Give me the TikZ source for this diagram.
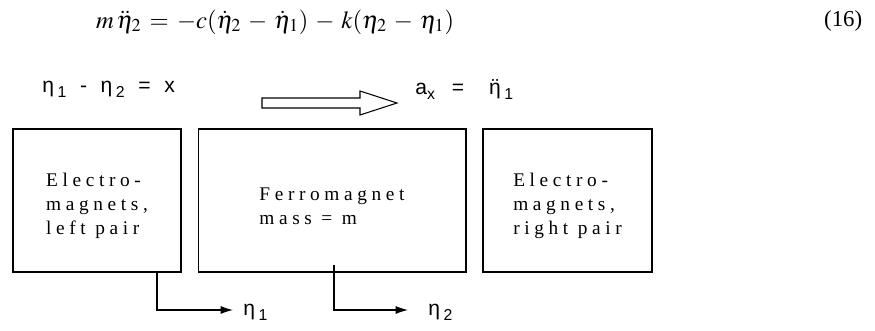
\documentclass[tikz,border=0pt]{standalone}
\usepackage{amsmath}
\usepackage{mathptmx}
\usepackage{fontspec}
\usepackage{tikz}
\usetikzlibrary{arrows.meta}
\newfontfamily\boxfont[LetterSpace=24]{Liberation Serif}
\newfontfamily\numfont{Liberation Serif}
\newfontfamily\symfont[LetterSpace=12]{Liberation Sans}
\newcommand{\lowidx}[1]{\raisebox{-0.45ex}{\small #1}}

\begin{document}
\begin{tikzpicture}[x=0.02cm,y=-0.02cm,
  magbox/.style={draw,line width=0.6pt,inner sep=0pt,align=left,font=\boxfont\fontsize{11}{13.6}\selectfont},
  qty/.style={font=\symfont\fontsize{12}{14}\selectfont,inner sep=0pt},
  shiftarrow/.style={line width=0.6pt,-{Latex[length=7pt,width=4.5pt]}}]
\useasboundingbox (0,0) rectangle (875,331);
\node[anchor=west] (eqn) at (90,22) {\fontsize{14}{17}\selectfont\thickmuskip=6mu\medmuskip=5mu$m\,\ddot{\eta}_2 = -c(\dot{\eta}_2-\dot{\eta}_1)-k(\eta_2-\eta_1)$};
\node[anchor=west] (eqnum) at (818,21) {\numfont\fontsize{13}{16}\selectfont(16)};
\node[qty,anchor=west] (gap) at (42,89) {η\,\lowidx{1}\hspace{3pt} - \hspace{3pt}η\,\lowidx{2}\hspace{3pt} = \hspace{3pt}x};
\node[qty,anchor=west] (accel) at (415,89) {a\lowidx{x} \ = \ \ $\ddot{\text{η}}$\,\lowidx{1}};
\draw[line width=0.6pt] (262,98) -- (360,98) -- (360,91) -- (397,103) -- (360,115) -- (360,108) -- (262,108) -- cycle;
\node[magbox,minimum width=3.36cm,minimum height=2.86cm] (lbox) at (97,200.5) {\rule{0pt}{14pt}Electro-\\magnets,\\left pair};
\node[magbox,minimum width=5.36cm,minimum height=2.86cm] (mass) at (332,200.5) {\rule{0pt}{14pt}Ferromagnet\\mass = m};
\node[magbox,minimum width=3.38cm,minimum height=2.86cm] (rbox) at (567.5,200.5) {\rule{0pt}{14pt}Electro-\\magnets,\\right pair};
\coordinate (eta1root) at (157,272);
\coordinate (eta1tip) at (233,310);
\coordinate (eta2root) at (334,265);
\coordinate (eta2tip) at (408,310);
\node[qty,anchor=west] (eta1) at (243,312) {η\,\lowidx{1}};
\node[qty,anchor=west] (eta2) at (428,312) {η\,\lowidx{2}};
\draw[shiftarrow] (eta1root) |- (eta1tip);
\draw[shiftarrow] (eta2root) |- (eta2tip);
\end{tikzpicture}
\end{document}
